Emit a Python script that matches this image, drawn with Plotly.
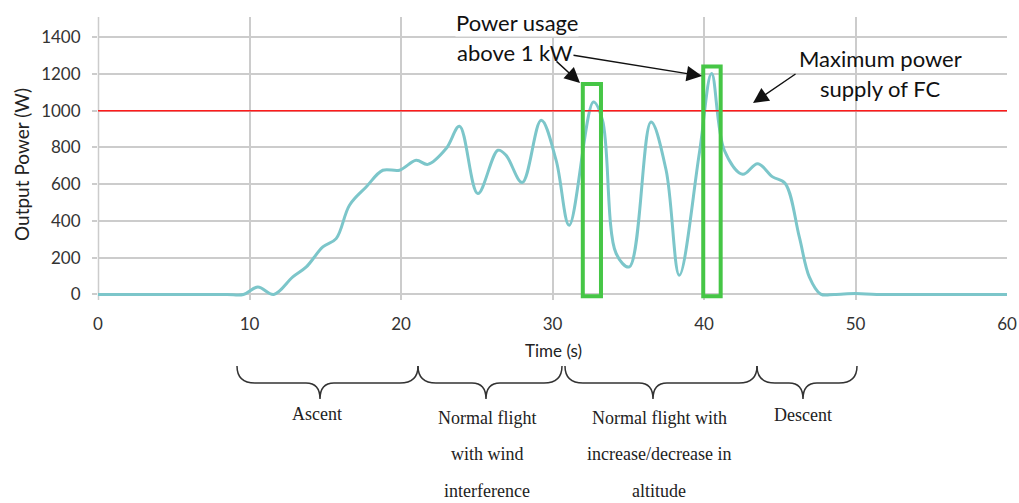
import plotly.graph_objects as go

# ---- data ----
time_s = [0, 5, 8.5, 9.6, 10.55, 11.6, 12.86, 13.75, 14.84, 15.72, 16.6, 17.7, 18.8, 19.9, 21.0,
          21.77, 22.98, 23.86, 25.07, 26.4, 26.94, 28.0, 29.25, 30.24, 31.1, 32.7, 33.3,
          34.2, 35.07, 36.5, 37.5, 38.37, 39.69, 40.5, 41.34, 42.55, 43.54, 44.53, 45.36,
          46.29, 46.95, 47.7, 48.6, 50.0, 51.4, 55, 60]
power_w = [0, 0, 0, 0, 41, 0, 96, 150, 259, 304, 486, 585, 676, 676, 730,
           708, 794, 915, 549, 785, 757, 609, 948, 730, 377, 1047, 948,
           223, 150, 939, 676, 105, 767, 1202, 785, 654, 712, 640, 604,
           313, 96, 2, 0, 5, 0, 0, 0]
fc_max_power = 1000
highlight_x0 = [32.0, 39.95]
highlight_x1 = [33.2, 41.1]
highlight_top = [1145, 1240]
x_ticks = [0, 10, 20, 30, 40, 50, 60]
y_ticks = [0, 200, 400, 600, 800, 1000, 1200, 1400]
phase_lines = [["Ascent"],
               ["Normal flight", "with wind", "interference"],
               ["Normal flight with", "increase/decrease in", "altitude"],
               ["Descent"]]

# ---- layout helpers (pixel -> paper) ----
W, H = 1019, 503
L, R, T, B = 98, 12, 17, 203
pw, ph = W - L - R, H - T - B
def PX(px): return (px - L) / pw
def PY(py): return (H - B - py) / ph

fig = go.Figure()
fig.add_trace(go.Scatter(x=time_s, y=power_w, mode="lines",
                         line=dict(color="#7cc6ca", width=3, shape="spline", smoothing=1.0),
                         showlegend=False, hoverinfo="skip"))

shapes = []
shapes.append(dict(type="line", xref="paper", yref="paper", x0=PX(98.5), x1=PX(98.5), y0=0, y1=1,
                   line=dict(color="#cccccc", width=1.5), layer="below"))
shapes.append(dict(type="line", xref="x", yref="y", x0=0, x1=60, y0=fc_max_power, y1=fc_max_power,
                   line=dict(color="#ff1a1a", width=1.5), layer="above"))
for x0, x1, top in zip(highlight_x0, highlight_x1, highlight_top):
    shapes.append(dict(type="rect", xref="x", yref="y", x0=x0, x1=x1, y0=-10, y1=top,
                       line=dict(color="#46c646", width=4), layer="above"))

# braces
def brace(x0, x1, tip, top=366, h=383, tb=399):
    pts = lambda x, y: f"{PX(x):.5f},{PY(y):.5f}"
    return ("M " + pts(x0, top) + " Q " + pts(x0, h) + " " + pts(x0 + 18, h) +
            " L " + pts(tip - 14, h) + " Q " + pts(tip, h) + " " + pts(tip, tb) +
            " Q " + pts(tip, h) + " " + pts(tip + 14, h) +
            " L " + pts(x1 - 18, h) + " Q " + pts(x1, h) + " " + pts(x1, top))

brace_defs = [(237, 418, 320), (418, 562, 486), (565, 757, 653), (757, 857, 803)]
for x0, x1, tip in brace_defs:
    shapes.append(dict(type="path", xref="paper", yref="paper", path=brace(x0, x1, tip),
                       line=dict(color="#333333", width=1.5)))

annotations = []
serif = dict(family="Liberation Serif", size=18, color="#222222")
phase_x = [317, 487, 659, 803]
phase_y0 = [414, 418, 418, 415]
line_gap = 36.5
for lines, px, py0 in zip(phase_lines, phase_x, phase_y0):
    for i, txt in enumerate(lines):
        annotations.append(dict(text=txt, xref="paper", yref="paper", x=PX(px),
                                y=PY(py0 + i * line_gap), xanchor="center", yanchor="middle",
                                showarrow=False, font=serif))

sans = dict(family="Lato", size=22, color="#111111")
annotations.append(dict(text="Power usage", xref="paper", yref="paper", x=PX(517), y=PY(22),
                        xanchor="center", yanchor="middle", showarrow=False, font=sans,
                        bgcolor="white", borderpad=0))
annotations.append(dict(text="above 1 kW", xref="paper", yref="paper", x=PX(515), y=PY(52),
                        xanchor="center", yanchor="middle", showarrow=False, font=sans))
annotations.append(dict(text="Maximum power", xref="paper", yref="paper", x=PX(880), y=PY(58),
                        xanchor="center", yanchor="middle", showarrow=False, font=sans))
annotations.append(dict(text="supply of FC", xref="paper", yref="paper", x=PX(880), y=PY(88),
                        xanchor="center", yanchor="middle", showarrow=False, font=sans))

for (tx, ty), (hx, hy) in [((555, 60), (580, 83)), ((572, 55), (702, 76)), ((797, 73), (753, 103))]:
    annotations.append(dict(text="", xref="paper", yref="paper", x=PX(hx), y=PY(hy),
                            ax=tx - hx, ay=ty - hy, showarrow=True, arrowhead=2,
                            arrowsize=2.2, arrowwidth=1.4, arrowcolor="#111111", standoff=0,
                            startstandoff=0))

axfont = dict(family="Lato", size=19, color="#222222")
annotations.append(dict(text="Output Power (W)", xref="paper", yref="paper", x=PX(22), y=PY(165),
                        xanchor="center", yanchor="middle", textangle=-90, showarrow=False,
                        font=axfont))
annotations.append(dict(text="Time (s)", xref="paper", yref="paper", x=PX(553), y=PY(350),
                        xanchor="center", yanchor="middle", showarrow=False,
                        font=dict(family="Lato", size=17, color="#222222")))

fig.update_layout(
    width=W, height=H, margin=dict(l=L, r=R, t=T, b=B, autoexpand=False),
    paper_bgcolor="white", plot_bgcolor="white",
    shapes=shapes, annotations=annotations, showlegend=False,
    xaxis=dict(range=[0, 60], tickvals=x_ticks, ticktext=[str(v) for v in x_ticks],
               showgrid=True, gridcolor="#cccccc", gridwidth=1.5, zeroline=False,
               showline=False, ticks="", ticklabelstandoff=12, automargin=False,
               tickfont=dict(family="Lato", size=17, color="#333333")),
    yaxis=dict(range=[-30, 1510], tickvals=y_ticks, ticktext=[str(v) for v in y_ticks],
               showgrid=True, gridcolor="#cccccc", gridwidth=1.5, zeroline=False,
               showline=False, ticks="outside", ticklen=5, tickcolor="#cccccc",
               tickwidth=1.5, ticklabelstandoff=8, automargin=False,
               tickfont=dict(family="Lato", size=17, color="#333333")),
)
fig.write_html("out.html")
